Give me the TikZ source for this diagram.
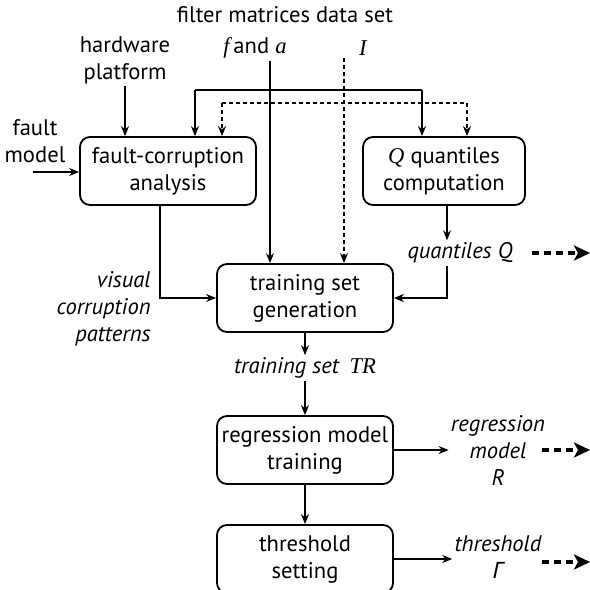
\documentclass[tikz,border=0pt]{standalone}
\usepackage{fontspec}
\setmainfont{PT Sans}
\newfontfamily\serifit{Liberation Serif}
\newfontfamily\grkfont{Noto Sans}
\newcommand{\msym}[1]{{\serifit\itshape #1}}
\usetikzlibrary{arrows.meta, positioning}
\tikzset{
    >={Stealth[length=5pt, width=4pt]},
    block/.style={draw, line width=0.9pt, rounded corners=5pt, align=center,
        minimum width=88pt, minimum height=34pt, inner sep=1pt},
    lbl/.style={align=center, inner sep=1pt},
    itlbl/.style={lbl, font=\fontsize{11.3}{13.5}\selectfont\itshape},
    flow/.style={->, line width=0.6pt},
    dflow/.style={->, line width=0.6pt, dash pattern=on 2pt off 1.5pt},
    outarrow/.style={-{Stealth[length=8pt, width=7.5pt, inset=2pt]}, line width=1.6pt,
        dash pattern=on 3.5pt off 2.5pt}
}

\begin{document}
\begin{tikzpicture}[x=0.5pt, y=-0.5pt, font=\fontsize{11.3}{13.5}\selectfont]
    \useasboundingbox (0, 0) rectangle (590, 590);

    % inputs
    \node[lbl] (dset) at (285, 15) {filter matrices data set};
    \node[lbl] (fa) at (255, 48) {\msym{f}\,and \msym{a}};
    \node[lbl] (img) at (363, 48) {\msym{I}};
    \node[lbl] (hw) at (125, 60) {hardware\\platform};
    \node[lbl] (fm) at (35, 141) {fault\\model};

    % blocks
    \node[block] (fca) at (168, 171) {fault-corruption\\analysis};
    \node[block, minimum width=81pt] (qqc) at (444, 171) {\msym{Q} quantiles\\computation};
    \node[block] (tsg) at (305, 298) {training set\\generation};
    \node[block] (rmt) at (305, 450) {regression model\\training};
    \node[block] (ths) at (305, 559) {threshold\\setting};

    % intermediate results
    \node[itlbl, align=right, anchor=east] (vcp) at (153, 309) {visual\\corruption\\patterns};
    \node[itlbl] (qq) at (460, 253) {quantiles Q};
    \node[lbl] (tr) at (305, 368) {\textit{training set}\, \msym{TR}};
    \node[itlbl] (rm) at (498, 450) {regression\\model\\R};
    \node[itlbl] (thr) at (498, 557) {threshold\\{\grkfont\itshape Γ}};

    % junctions
    \coordinate (fj) at (270, 90);
    \coordinate (sl) at (195, 90);
    \coordinate (sr) at (422, 90);
    \coordinate (dj) at (344, 103);
    \coordinate (dl) at (222, 103);
    \coordinate (dr) at (467, 103);
    \coordinate (fmin) at (33, 172);
    \coordinate (vj) at (160, 298);
    \coordinate (qj) at (447, 298);
    \coordinate (qs) at (532, 253);
    \coordinate (qe) at (590, 253);
    \coordinate (rs) at (542, 450);
    \coordinate (re) at (590, 450);
    \coordinate (ts) at (542, 562);
    \coordinate (te) at (590, 562);

    % solid inputs
    \draw[flow] (fa.south -| fj) -- (fj |- tsg.north);
    \draw[line width=0.6pt] (sl) -- (sr);
    \draw[flow] (sl) -- (sl |- fca.north);
    \draw[flow] (sr) -- (sr |- qqc.north);
    \draw[flow] (hw.south) -- (hw.south |- fca.north);
    \draw[flow] (fmin) -- (fmin -| fca.west);

    % dashed inputs
    \draw[dflow] (img.south -| dj) -- (dj |- tsg.north);
    \draw[line width=0.6pt, dash pattern=on 2pt off 1.5pt] (dl) -- (dr);
    \draw[dflow] (dl) -- (dl |- fca.north);
    \draw[dflow] (dr) -- (dr |- qqc.north);

    % flow between blocks
    \draw[flow] (fca.south -| vj) -- (vj) -- (tsg.west);
    \draw[flow] (qqc.south -| qj) -- (qq.north -| qj);
    \draw[flow] (qq.south -| qj) -- (qj) -- (tsg.east);
    \draw[flow] (tsg.south) -- (tr.north);
    \draw[flow] (tr.south) -- (rmt.north);
    \draw[flow] (rmt.south) -- (ths.north);
    \draw[flow] (rmt.east) -- (rm.west |- rmt.east);
    \draw[flow] (ths.east) -- (thr.west |- ths.east);

    % outputs
    \draw[outarrow] (qs) -- (qe);
    \draw[outarrow] (rs) -- (re);
    \draw[outarrow] (ts) -- (te);
\end{tikzpicture}
\end{document}
